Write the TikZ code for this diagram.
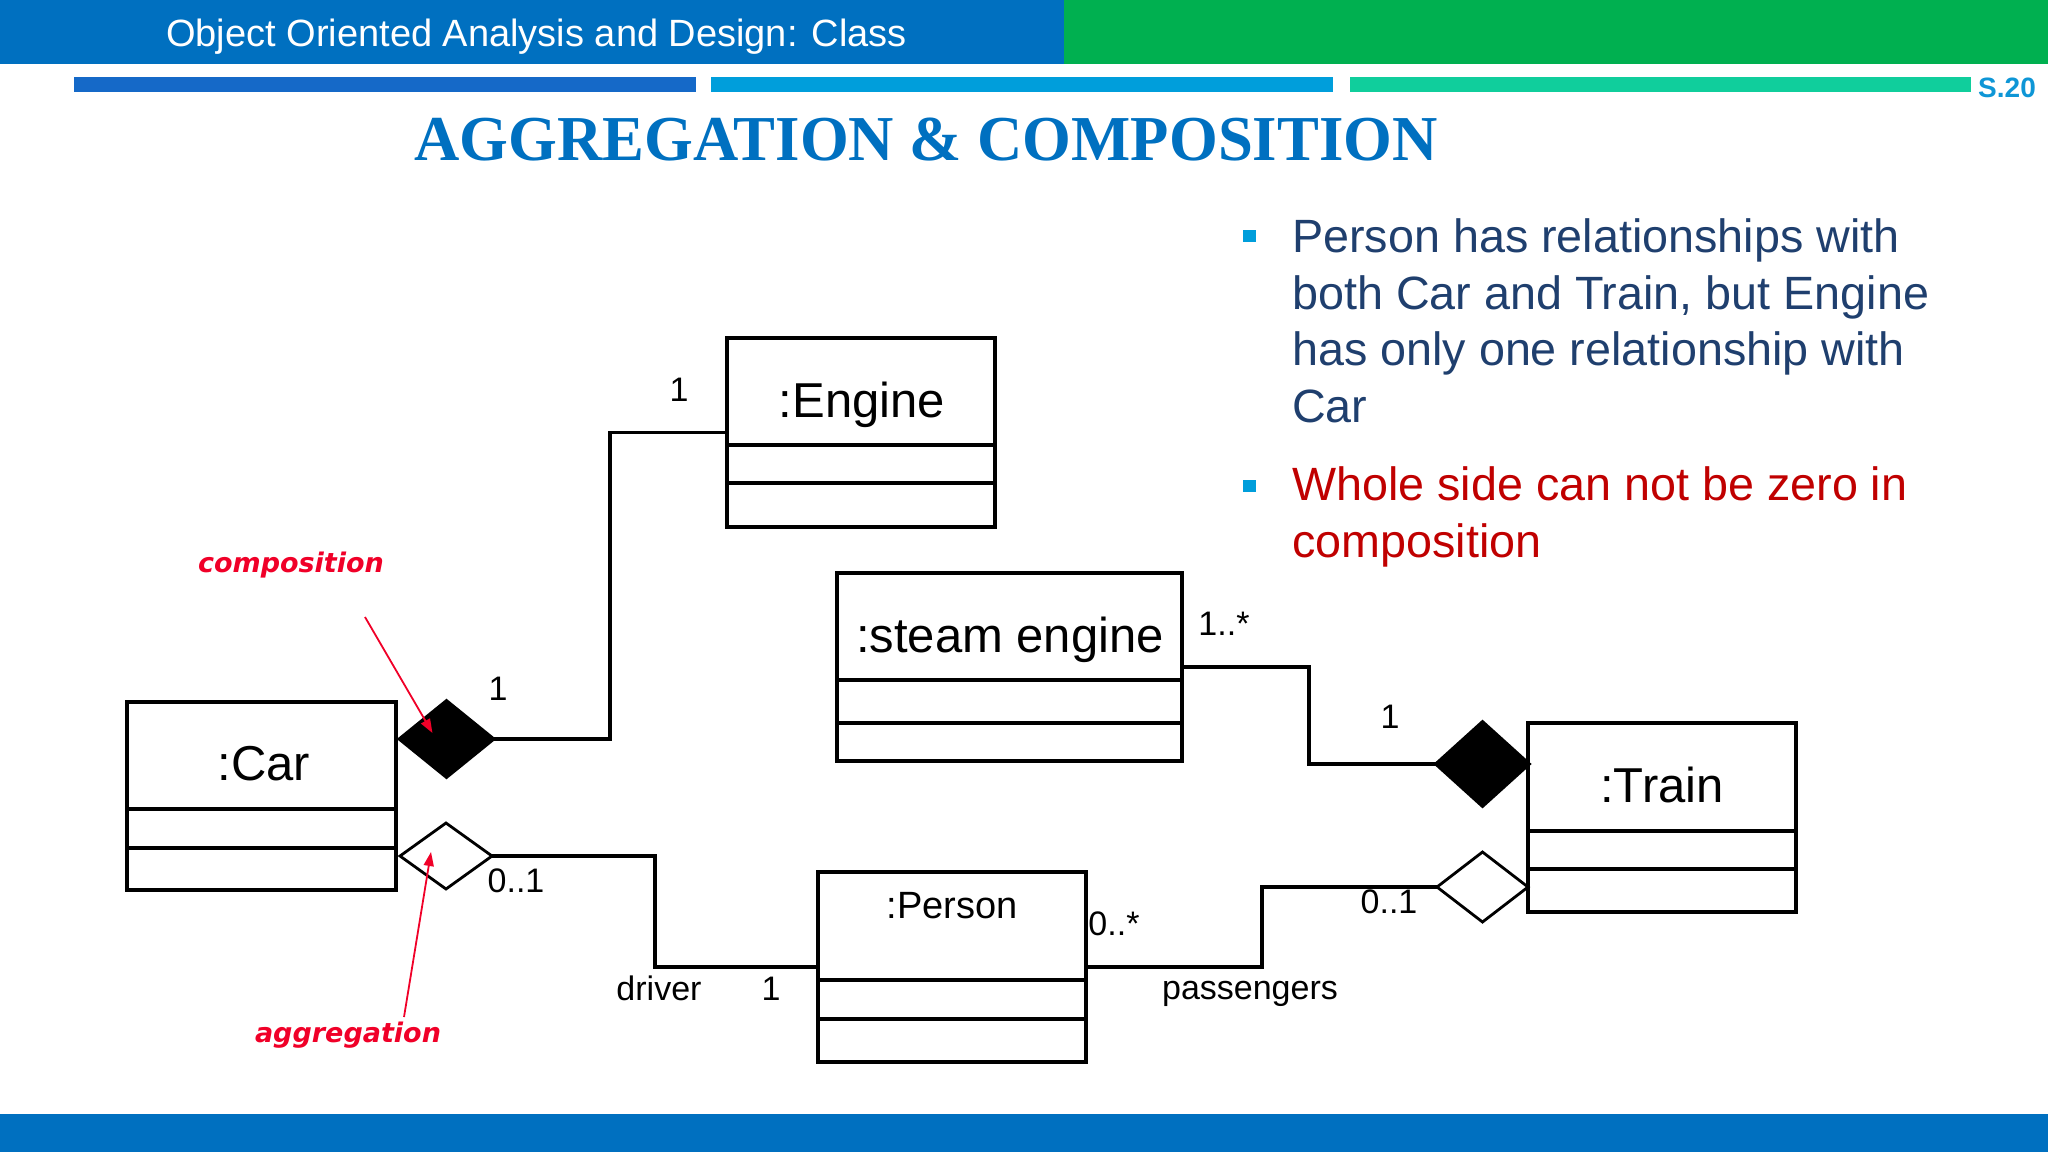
\documentclass[tikz,border=0pt]{standalone}
\usepackage{fontspec}
\setmainfont{Liberation Sans}
\newfontfamily\titlefont{Liberation Serif}
\newfontfamily\annotfont{DejaVu Sans}
\usetikzlibrary{shapes.geometric,arrows.meta}
\definecolor{hdrblue}{RGB}{0,112,192}
\definecolor{hdrgreen}{RGB}{0,176,80}
\definecolor{stripeA}{RGB}{21,105,200}
\definecolor{stripeB}{RGB}{0,158,219}
\definecolor{stripeC}{RGB}{16,206,156}
\definecolor{snum}{RGB}{14,150,214}
\definecolor{bodyblue}{RGB}{31,63,110}
\definecolor{bodyred}{RGB}{192,0,0}
\definecolor{annred}{RGB}{240,0,40}
\begin{document}
\begin{tikzpicture}[x=1pt,y=-1pt,
  umlline/.style={line width=3.2pt},
  classbox/.style={draw, line width=3.2pt, inner sep=0pt, outer sep=0pt, anchor=north west},
  bigname/.style={anchor=base, font=\fontsize{49}{53}\selectfont},
  mult/.style={anchor=base, font=\fontsize{34}{37}\selectfont},
  fulldia/.style={diamond, draw, fill=black, line width=2.8pt, inner sep=0pt, outer sep=0pt},
  hollowdia/.style={diamond, draw, fill=white, line width=2.8pt, inner sep=0pt, outer sep=0pt},
  bodyline/.style={anchor=base west, font=\fontsize{46.7}{54}\selectfont},
  annot/.style={anchor=base, text=annred, font=\annotfont\bfseries\itshape\fontsize{27}{30}\selectfont},
  annarrow/.style={draw=annred, line width=1.8pt, -{Triangle[length=14pt,width=10pt]}}
]
\useasboundingbox (0,0) rectangle (2048,1152);
% header
\fill[hdrblue] (0,0) rectangle (1064,64);
\fill[hdrgreen] (1064,0) rectangle (2048,64);
\node[anchor=base west, text=white, font=\fontsize{38}{42}\selectfont, inner sep=0pt] (hdr) at (166,46) {Object Oriented Analysis and Design: Class};
\fill[stripeA] (74,77) rectangle (696,92);
\fill[stripeB] (711,77) rectangle (1333,92);
\fill[stripeC] (1350,77) rectangle (1971,92);
\node[anchor=base west, inner sep=0pt, text=snum, font=\bfseries\fontsize{28}{30}\selectfont] (snum) at (1978,97) {S.20};
\node[anchor=base, inner sep=0pt, text=hdrblue, font=\titlefont\bfseries\fontsize{64}{70}\selectfont] (title) at (926,160) {\scalebox{0.98}[1]{AGGREGATION \& COMPOSITION}};
% bottom band
\fill[hdrblue] (0,1114) rectangle (2048,1152);

% bullets
\fill[stripeB] (1243,230) rectangle (1256,242);
\fill[stripeB] (1243,480) rectangle (1256,492);
\node[bodyline, text=bodyblue, inner sep=0pt] (b1a) at (1292,252) {Person has relationships with};
\node[bodyline, text=bodyblue, inner sep=0pt] (b1b) at (1292,309) {both Car and Train, but Engine};
\node[bodyline, text=bodyblue, inner sep=0pt] (b1c) at (1292,365) {has only one relationship with};
\node[bodyline, text=bodyblue, inner sep=0pt] (b1d) at (1292,422) {Car};
\node[bodyline, text=bodyred, inner sep=0pt] (b2a) at (1292,500) {Whole side can not be zero in};
\node[bodyline, text=bodyred, inner sep=0pt] (b2b) at (1292,557) {composition};

% class boxes
\node[classbox, minimum width=268pt, minimum height=189pt] (engine) at (727,338) {};
\draw[umlline] (engine.west |- 0,445) -- (engine.east |- 0,445);
\draw[umlline] (engine.west |- 0,483) -- (engine.east |- 0,483);
\node[bigname] (enginename) at (862,417) {:Engine};

\node[classbox, minimum width=269pt, minimum height=188pt] (car) at (127,702) {};
\draw[umlline] (car.west |- 0,809) -- (car.east |- 0,809);
\draw[umlline] (car.west |- 0,848) -- (car.east |- 0,848);
\node[bigname] (carname) at (264,780) {:Car};

\node[classbox, minimum width=345pt, minimum height=188pt] (steam) at (837,573) {};
\draw[umlline] (steam.west |- 0,680) -- (steam.east |- 0,680);
\draw[umlline] (steam.west |- 0,723) -- (steam.east |- 0,723);
\node[bigname] (steamname) at (1010,652) {:steam engine};

\node[classbox, minimum width=268pt, minimum height=189pt] (train) at (1528,723) {};
\draw[umlline] (train.west |- 0,831) -- (train.east |- 0,831);
\draw[umlline] (train.west |- 0,869) -- (train.east |- 0,869);
\node[bigname] (trainname) at (1662,802) {:Train};

\node[classbox, minimum width=268pt, minimum height=190pt] (person) at (818,872) {};
\draw[umlline] (person.west |- 0,980) -- (person.east |- 0,980);
\draw[umlline] (person.west |- 0,1019) -- (person.east |- 0,1019);
\node[anchor=base, font=\fontsize{38}{41}\selectfont] (personname) at (952,918) {:Person};

% diamonds
\node[fulldia, minimum width=95pt, minimum height=77pt] (cdcar) at (446.5,739) {};
\node[hollowdia, minimum width=92pt, minimum height=66pt] (adcar) at (446,856) {};
\node[fulldia, minimum width=94pt, minimum height=85pt] (cdtrain) at (1482.5,764) {};
\node[hollowdia, minimum width=91pt, minimum height=70pt] (adtrain) at (1482.5,887) {};

% connectors
\draw[umlline] (cdcar.east) -- (610,739) |- (engine.west);
\draw[umlline] (adcar.east) -- (655,856) |- (person.west);
\draw[umlline] (person.east) -- (1262,967) |- (adtrain.west);
\draw[umlline] (cdtrain.west) -- (1309,764) |- (steam.east);

% multiplicities and roles
\node[mult] (m1) at (679,401) {1};
\node[mult] (m2) at (498,700) {1};
\node[mult] (m3) at (516,892) {0..1};
\node[mult] (m4) at (659,1000) {driver};
\node[mult] (m5) at (771,1000) {1};
\node[mult] (m6) at (1114,935) {0..*};
\node[mult] (m7) at (1250,999) {passengers};
\node[mult] (m8) at (1224,635) {1..*};
\node[mult] (m9) at (1390,728) {1};
\node[mult] (m10) at (1389,913) {0..1};

% annotations
\node[annot] (compnote) at (291,572) {composition};
\node[annot] (aggnote) at (348,1042) {aggregation};
\coordinate (comptail) at (365,617);
\coordinate (comptip) at ([shift={(-14,-6)}]cdcar.center);
\coordinate (aggtail) at (404,1017);
\coordinate (aggtip) at ([shift={(-15,-4)}]adcar.center);
\draw[annarrow] (comptail) -- (comptip);
\draw[annarrow] (aggtail) -- (aggtip);
\end{tikzpicture}
\end{document}
